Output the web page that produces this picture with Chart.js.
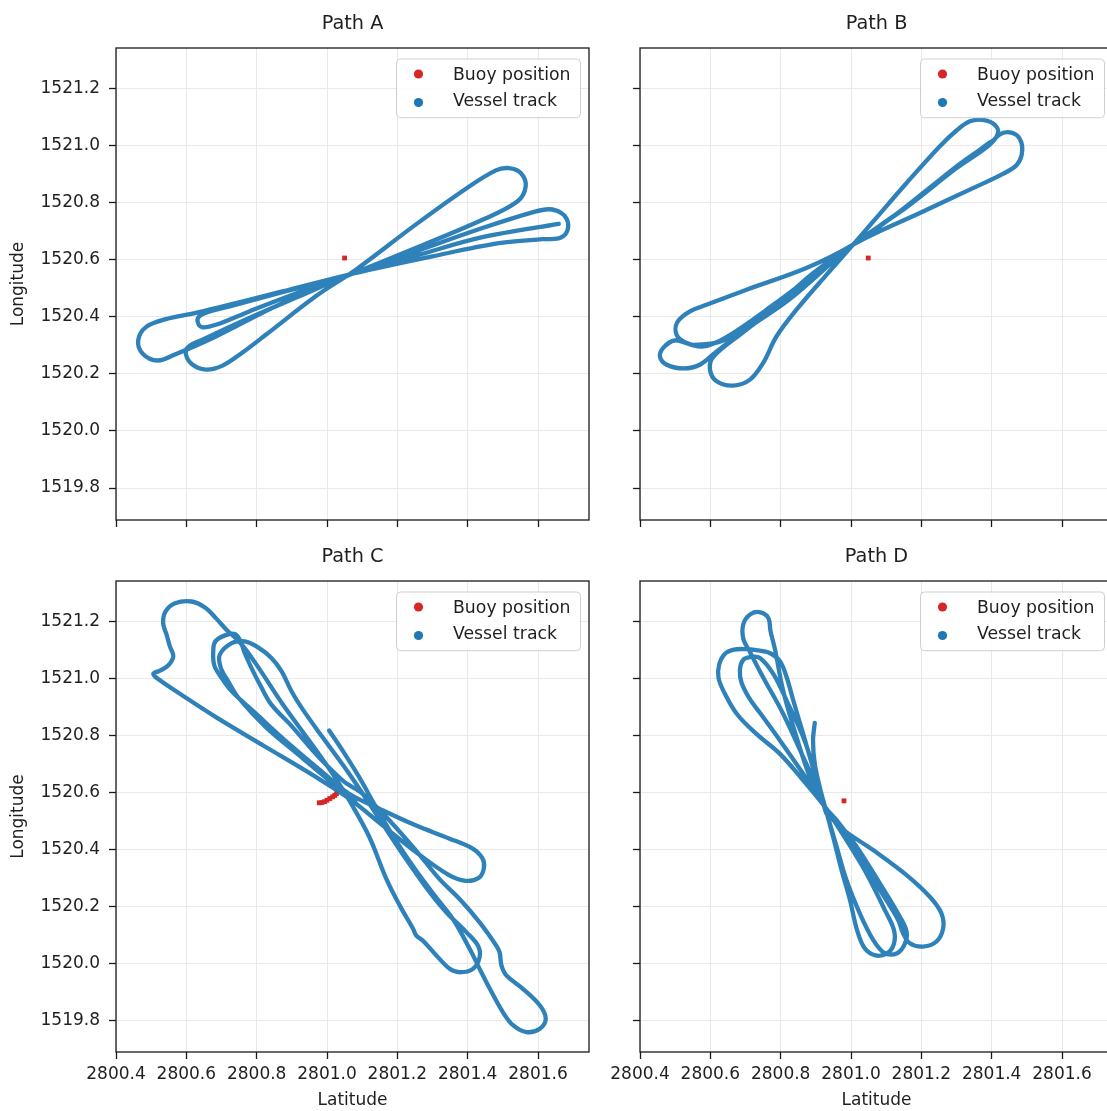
<!DOCTYPE html>
<html>
<head>
<meta charset="utf-8">
<script src="https://cdn.jsdelivr.net/npm/chart.js@4.4.1/dist/chart.umd.min.js"></script>
<style>
html,body{margin:0;padding:0;background:#fff;overflow:hidden;width:1107px;height:1111px;position:relative;}
canvas{position:absolute;}
</style>
</head>
<body>
<canvas id="cA" width="600" height="545" style="left:0;top:0;width:600px;height:545px"></canvas>
<canvas id="cB" width="600" height="545" style="left:524px;top:0;width:600px;height:545px"></canvas>
<canvas id="cC" width="600" height="578" style="left:0;top:533px;width:600px;height:578px"></canvas>
<canvas id="cD" width="600" height="578" style="left:524px;top:533px;width:600px;height:578px"></canvas>
<script>
// ---------- data (Latitude, Longitude) ----------
const panelTitles = ["Path A", "Path B", "Path C", "Path D"];
const seriesLabels = ["Buoy position", "Vessel track"];
const xTicksStep = 0.2, yTicksStep = 0.2;
const xRange = [2800.4, 2801.745];
const yRange = [1519.688, 1521.342];

const buoyA = [[2801.050, 1520.606]];
const buoyB = [[2801.049, 1520.606]];
const buoyC = [[2800.978, 1520.563], [2800.985, 1520.564], [2800.993, 1520.567], [2801.000, 1520.572], [2801.008, 1520.578], [2801.016, 1520.584], [2801.022, 1520.589], [2801.027, 1520.595]];
const buoyD = [[2800.980, 1520.570]];

const trackA = [[2801.659,1520.726],[2801.442,1520.679],[2801.252,1520.614],[2801.072,1520.551],[2800.873,1520.486],[2800.731,1520.439],[2800.660,1520.416],[2800.637,1520.402],[2800.632,1520.384],[2800.644,1520.364],[2800.684,1520.372],[2800.779,1520.419],[2800.921,1520.486],[2801.072,1520.551],[2801.252,1520.629],[2801.442,1520.711],[2801.584,1520.766],[2801.631,1520.777],[2801.667,1520.763],[2801.685,1520.731],[2801.680,1520.693],[2801.658,1520.675],[2801.612,1520.672],[2801.489,1520.658],[2801.300,1520.612],[2801.072,1520.551],[2800.873,1520.489],[2800.684,1520.431],[2800.624,1520.413],[2800.542,1520.392],[2800.485,1520.364],[2800.463,1520.317],[2800.476,1520.271],[2800.518,1520.247],[2800.566,1520.267],[2800.684,1520.331],[2800.873,1520.448],[2801.072,1520.551],[2801.252,1520.641],[2801.442,1520.740],[2801.541,1520.804],[2801.565,1520.857],[2801.551,1520.904],[2801.517,1520.921],[2801.480,1520.913],[2801.394,1520.848],[2801.252,1520.723],[2801.082,1520.565],[2800.968,1520.472],[2800.826,1520.337],[2800.760,1520.275],[2800.703,1520.229],[2800.656,1520.215],[2800.618,1520.232],[2800.599,1520.267],[2800.605,1520.294],[2800.646,1520.320],[2800.779,1520.396],[2800.921,1520.472],[2801.072,1520.551],[2801.205,1520.600]];

const trackB = [[2801.394,1521.011],[2801.252,1520.880],[2801.120,1520.752],[2801.006,1520.653],[2800.873,1520.571],[2800.703,1520.495],[2800.589,1520.442],[2800.542,1520.419],[2800.506,1520.381],[2800.504,1520.337],[2800.533,1520.308],[2800.580,1520.296],[2800.646,1520.329],[2800.779,1520.442],[2800.911,1520.565],[2801.006,1520.653],[2801.205,1520.769],[2801.347,1520.851],[2801.432,1520.901],[2801.472,1520.933],[2801.487,1520.985],[2801.475,1521.032],[2801.446,1521.047],[2801.421,1521.038],[2801.404,1521.018],[2801.300,1520.927],[2801.158,1520.787],[2801.006,1520.653],[2800.892,1520.553],[2800.760,1520.413],[2800.637,1520.317],[2800.552,1520.302],[2800.499,1520.317],[2800.466,1520.291],[2800.457,1520.259],[2800.476,1520.232],[2800.523,1520.219],[2800.570,1520.232],[2800.618,1520.279],[2800.713,1520.366],[2800.826,1520.462],[2801.006,1520.653],[2801.158,1520.784],[2801.300,1520.921],[2801.394,1521.003],[2801.418,1521.044],[2801.409,1521.073],[2801.375,1521.090],[2801.338,1521.085],[2801.300,1521.053],[2801.252,1520.997],[2801.158,1520.869],[2801.063,1520.734],[2801.006,1520.653],[2800.930,1520.547],[2800.845,1520.425],[2800.788,1520.331],[2800.750,1520.238],[2800.713,1520.180],[2800.665,1520.159],[2800.618,1520.174],[2800.599,1520.215],[2800.608,1520.259],[2800.684,1520.337],[2800.826,1520.472],[2801.006,1520.653],[2801.120,1520.752]];

const trackC = [[2801.006,1520.817],[2801.044,1520.747],[2801.091,1520.654],[2801.139,1520.549],[2801.195,1520.432],[2801.252,1520.327],[2801.309,1520.233],[2801.358,1520.155],[2801.406,1520.050],[2801.434,1519.980],[2801.463,1519.910],[2801.500,1519.828],[2801.529,1519.782],[2801.567,1519.758],[2801.605,1519.770],[2801.622,1519.805],[2801.605,1519.852],[2801.557,1519.910],[2801.510,1519.957],[2801.496,1519.992],[2801.491,1520.038],[2801.481,1520.062],[2801.434,1520.143],[2801.377,1520.225],[2801.320,1520.295],[2801.252,1520.397],[2801.177,1520.502],[2801.101,1520.595],[2801.044,1520.642],[2800.968,1520.735],[2800.902,1520.829],[2800.842,1520.908],[2800.814,1520.967],[2800.785,1521.037],[2800.766,1521.089],[2800.752,1521.136],[2800.738,1521.156],[2800.710,1521.151],[2800.684,1521.132],[2800.677,1521.107],[2800.679,1521.048],[2800.700,1521.002],[2800.729,1520.955],[2800.798,1520.876],[2800.892,1520.770],[2800.987,1520.671],[2801.063,1520.595],[2801.158,1520.537],[2801.252,1520.484],[2801.347,1520.438],[2801.413,1520.403],[2801.442,1520.368],[2801.446,1520.333],[2801.432,1520.300],[2801.394,1520.289],[2801.347,1520.309],[2801.252,1520.391],[2801.158,1520.484],[2801.063,1520.578],[2800.968,1520.654],[2800.826,1520.759],[2800.684,1520.864],[2800.589,1520.940],[2800.523,1520.995],[2800.506,1521.016],[2800.525,1521.027],[2800.549,1521.046],[2800.563,1521.078],[2800.553,1521.113],[2800.544,1521.153],[2800.534,1521.194],[2800.541,1521.235],[2800.568,1521.264],[2800.615,1521.270],[2800.653,1521.249],[2800.686,1521.209],[2800.714,1521.171],[2800.752,1521.127],[2800.798,1521.051],[2800.873,1520.911],[2800.949,1520.782],[2801.016,1520.665],[2801.063,1520.572],[2801.120,1520.444],[2801.169,1520.295],[2801.207,1520.202],[2801.245,1520.120],[2801.254,1520.097],[2801.273,1520.079],[2801.311,1520.027],[2801.349,1519.980],[2801.377,1519.968],[2801.415,1519.980],[2801.434,1520.021],[2801.429,1520.062],[2801.396,1520.109],[2801.339,1520.179],[2801.292,1520.249],[2801.214,1520.385],[2801.139,1520.525],[2801.063,1520.665],[2800.987,1520.794],[2800.930,1520.893],[2800.899,1520.955],[2800.871,1521.025],[2800.842,1521.072],[2800.804,1521.109],[2800.766,1521.130],[2800.729,1521.124],[2800.695,1521.083],[2800.698,1521.037],[2800.719,1520.990],[2800.748,1520.932],[2800.826,1520.829],[2800.921,1520.730],[2801.006,1520.642],[2801.082,1520.572]];

const trackD = [[2800.897,1520.844],[2800.892,1520.782],[2800.897,1520.700],[2800.911,1520.619],[2800.926,1520.549],[2800.949,1520.444],[2800.973,1520.327],[2800.997,1520.222],[2801.017,1520.117],[2801.039,1520.052],[2801.070,1520.027],[2801.103,1520.035],[2801.122,1520.068],[2801.122,1520.117],[2801.096,1520.187],[2801.044,1520.315],[2800.987,1520.432],[2800.926,1520.549],[2800.864,1520.665],[2800.798,1520.782],[2800.741,1520.879],[2800.713,1520.926],[2800.689,1520.984],[2800.684,1521.031],[2800.694,1521.066],[2800.713,1521.075],[2800.741,1521.072],[2800.779,1521.016],[2800.817,1520.922],[2800.864,1520.794],[2800.902,1520.654],[2800.926,1520.549],[2800.968,1520.479],[2801.063,1520.397],[2801.158,1520.309],[2801.224,1520.233],[2801.257,1520.175],[2801.262,1520.122],[2801.243,1520.076],[2801.205,1520.058],[2801.167,1520.070],[2801.148,1520.105],[2801.134,1520.152],[2801.082,1520.257],[2801.016,1520.385],[2800.959,1520.490],[2800.926,1520.549],[2800.864,1520.642],[2800.798,1520.735],[2800.731,1520.805],[2800.675,1520.876],[2800.637,1520.957],[2800.623,1521.004],[2800.625,1521.048],[2800.641,1521.086],[2800.667,1521.101],[2800.698,1521.103],[2800.731,1521.099],[2800.769,1521.089],[2800.798,1521.060],[2800.817,1521.004],[2800.836,1520.922],[2800.864,1520.805],[2800.897,1520.665],[2800.926,1520.549],[2800.959,1520.409],[2800.987,1520.292],[2801.025,1520.175],[2801.063,1520.082],[2801.096,1520.035],[2801.131,1520.035],[2801.153,1520.068],[2801.158,1520.111],[2801.139,1520.163],[2801.082,1520.280],[2801.016,1520.409],[2800.959,1520.502],[2800.926,1520.549],[2800.883,1520.654],[2800.845,1520.794],[2800.807,1520.957],[2800.784,1521.101],[2800.771,1521.167],[2800.765,1521.212],[2800.743,1521.232],[2800.715,1521.226],[2800.694,1521.191],[2800.694,1521.138],[2800.713,1521.092],[2800.750,1521.004],[2800.807,1520.876],[2800.864,1520.724],[2800.911,1520.595],[2800.930,1520.525]];

// ---------- styling ----------
const FONT = 'DejaVu Sans';
const TXT = '#1f1f1f';
const TRACK = 'rgba(31,119,180,0.93)';
const BUOY = '#d62728';

const panelPlugin = {
  id: 'panelDeco',
  afterDraw(chart, args, opts) {
    const ctx = chart.ctx, a = chart.chartArea;
    ctx.save();
    // frame
    ctx.strokeStyle = '#1a1a1a';
    ctx.lineWidth = 1.3;
    ctx.strokeRect(a.left, a.top, a.right - a.left, a.bottom - a.top);
    // title
    ctx.fillStyle = TXT;
    ctx.font = '19.3px "' + FONT + '"';
    ctx.textAlign = 'center';
    ctx.textBaseline = 'alphabetic';
    ctx.fillText(opts.title, (a.left + a.right) / 2, a.top - 18.7);
    // legend box
    const bx = a.right - 192.5, by = a.top + 11, bw = 184, bh = 58.7;
    ctx.beginPath();
    ctx.roundRect(bx, by, bw, bh, 4);
    ctx.fillStyle = 'rgba(255,255,255,0.85)';
    ctx.fill();
    ctx.strokeStyle = '#cfcfcf';
    ctx.lineWidth = 1;
    ctx.stroke();
    const items = [[opts.labels[0], BUOY, 26, 32], [opts.labels[1], '#1f77b4', 54.5, 57.7]];
    ctx.font = '17.3px "' + FONT + '"';
    ctx.textAlign = 'left';
    items.forEach(it => {
      ctx.beginPath();
      ctx.arc(a.right - 170.5, a.top + it[2], 4.6, 0, Math.PI * 2);
      ctx.fillStyle = it[1];
      ctx.fill();
      ctx.fillStyle = TXT;
      ctx.fillText(it[0], a.right - 136, a.top + it[3]);
    });
    ctx.restore();
  }
};

function toXY(arr) { return arr.map(p => ({x: p[0], y: p[1]})); }

function makePanel(id, title, track, buoy, bottomRow, leftCol) {
  const xHeight = bottomRow ? 59 : 25;
  return new Chart(document.getElementById(id), {
    type: 'scatter',
    data: {
      datasets: [
        { label: seriesLabels[1], data: toXY(track), showLine: true, tension: 0.35,
          borderColor: TRACK, backgroundColor: TRACK, borderWidth: 4.3, pointRadius: 0, pointHoverRadius: 0,
          borderCapStyle: 'round', borderJoinStyle: 'round', order: 0 },
        { label: seriesLabels[0], data: toXY(buoy), showLine: false, pointStyle: 'rect',
          pointRadius: 3.4, pointHoverRadius: 3.4, backgroundColor: BUOY, borderWidth: 0, order: 1 }
      ]
    },
    options: {
      responsive: false, animation: false, devicePixelRatio: 1,
      events: [],
      layout: { padding: { top: 48, right: 11, left: 0, bottom: 0 } },
      plugins: {
        legend: { display: false }, title: { display: false }, tooltip: { enabled: false },
        panelDeco: { title: title, labels: seriesLabels }
      },
      scales: {
        x: {
          type: 'linear', position: 'bottom', min: xRange[0], max: xRange[1],
          border: { display: false },
          grid: { color: '#e9e9e9', lineWidth: 1, drawTicks: true, tickLength: 7, tickColor: '#1a1a1a', tickWidth: 1.3 },
          ticks: { stepSize: xTicksStep, includeBounds: false, display: bottomRow, autoSkip: false, maxRotation: 0,
                   padding: 5, color: TXT, font: { family: FONT, size: 17 }, callback: v => Number(v).toFixed(1) },
          title: { display: bottomRow, text: 'Latitude', color: TXT, font: { family: FONT, size: 17 }, padding: { top: 0, bottom: 0 } },
          afterFit: s => { s.height = xHeight; }
        },
        y: {
          type: 'linear', position: 'left', min: yRange[0], max: yRange[1],
          border: { display: false },
          grid: { color: '#e9e9e9', lineWidth: 1, drawTicks: true, tickLength: 7, tickColor: '#1a1a1a', tickWidth: 1.3 },
          ticks: { stepSize: yTicksStep, includeBounds: false, display: leftCol, autoSkip: false,
                   padding: 9, color: TXT, font: { family: FONT, size: 17 }, callback: v => Number(v).toFixed(1) },
          title: { display: leftCol, text: 'Longitude', color: TXT, font: { family: FONT, size: 17 }, padding: { top: 8, bottom: 0 } },
          afterFit: s => { s.width = 116; }
        }
      }
    },
    plugins: [panelPlugin]
  });
}

makePanel('cA', panelTitles[0], trackA, buoyA, false, true);
makePanel('cB', panelTitles[1], trackB, buoyB, false, false);
makePanel('cC', panelTitles[2], trackC, buoyC, true, true);
makePanel('cD', panelTitles[3], trackD, buoyD, true, false);
</script>
</body>
</html>
